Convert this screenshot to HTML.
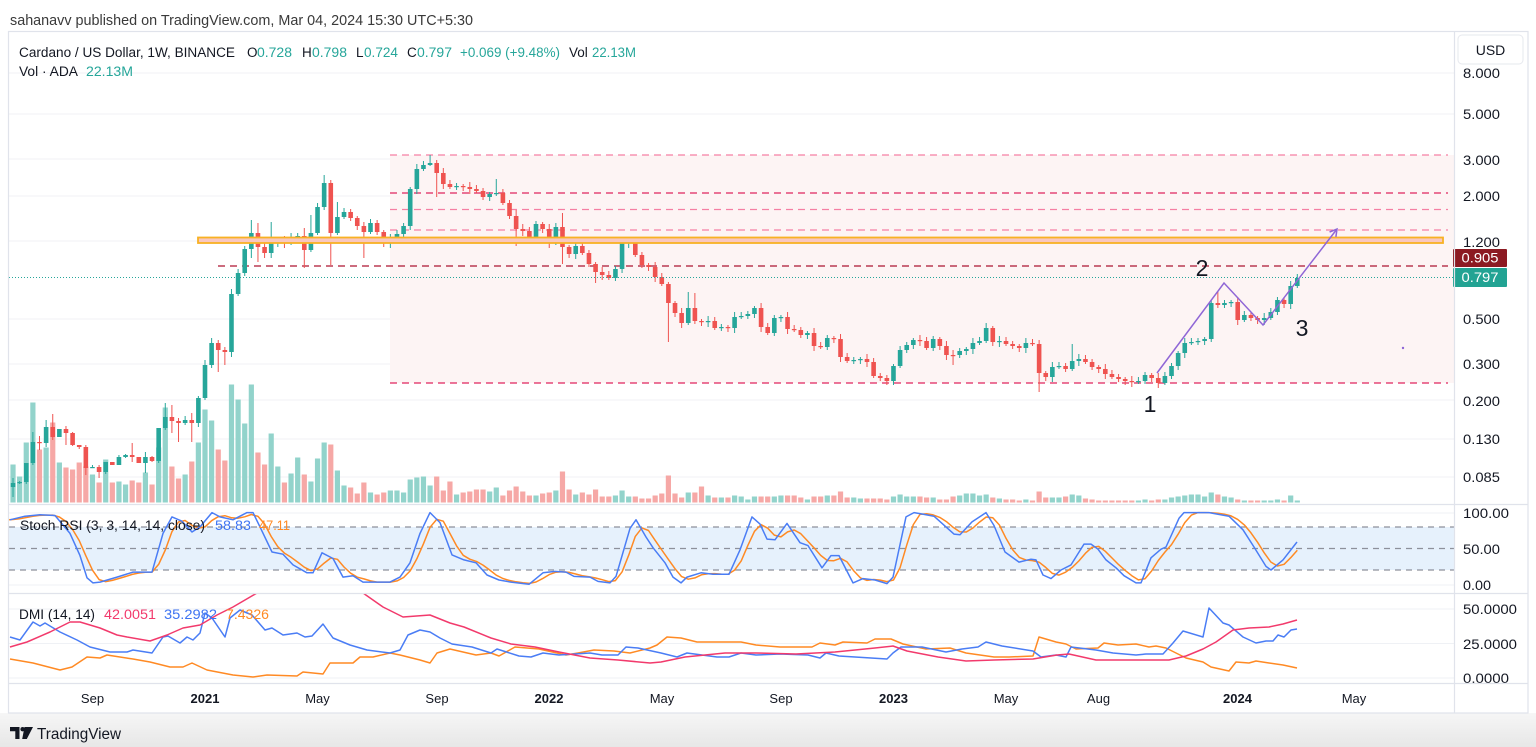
<!DOCTYPE html>
<html><head><meta charset="utf-8">
<style>
html,body{margin:0;padding:0;background:#fff;}
body{width:1536px;height:747px;overflow:hidden;position:relative;font-family:"Liberation Sans",Arial,sans-serif;}
svg{position:absolute;left:0;top:0;}
text{font-family:"Liberation Sans",Arial,sans-serif;}
</style></head><body>
<svg id="c" width="1536" height="747" viewBox="0 0 1536 747" xmlns="http://www.w3.org/2000/svg">
<defs>
 <linearGradient id="ft" x1="0" y1="0" x2="0" y2="1"><stop offset="0" stop-color="#f6f6f6"/><stop offset="1" stop-color="#e7e7e7"/></linearGradient>
 <clipPath id="mainClip"><rect x="9" y="32" width="1445" height="472"/></clipPath>
 <clipPath id="stClip"><rect x="9" y="505" width="1445" height="88"/></clipPath>
 <clipPath id="dmClip"><rect x="9" y="594" width="1445" height="89"/></clipPath>
 <clipPath id="dmAxClip"><rect x="1455" y="594" width="73" height="89"/></clipPath>
</defs>
<rect x="0" y="0" width="1536" height="747" fill="#fff"/>
<rect x="0" y="713" width="1536" height="34" fill="url(#ft)"/>

<!-- header -->
<text x="10" y="25" font-size="15" fill="#3a3a3a" textLength="463" lengthAdjust="spacingAndGlyphs">sahanavv published on TradingView.com, Mar 04, 2024 15:30 UTC+5:30</text>

<!-- main pane gridlines -->
<g stroke="#f0f1f4" stroke-width="1">
 <line x1="9" y1="73" x2="1454" y2="73"/><line x1="9" y1="114" x2="1454" y2="114"/>
 <line x1="9" y1="159" x2="1454" y2="159"/><line x1="9" y1="196" x2="1454" y2="196"/>
 <line x1="9" y1="241" x2="1454" y2="241"/><line x1="9" y1="319" x2="1454" y2="319"/>
 <line x1="9" y1="364" x2="1454" y2="364"/><line x1="9" y1="400" x2="1454" y2="400"/>
 <line x1="9" y1="439" x2="1454" y2="439"/><line x1="9" y1="477" x2="1454" y2="477"/>
</g>
<!-- pink fill region -->
<rect x="390" y="155" width="1064" height="228" fill="#fdf4f4"/>

<g id="vol" clip-path="url(#mainClip)"></g>

<!-- dashed fib lines -->
<g stroke-width="1.3" stroke-dasharray="7 5" fill="none">
 <line x1="390" y1="155" x2="1448" y2="155" stroke="#f57fa3"/>
 <line x1="390" y1="193" x2="1448" y2="193" stroke="#e0245e"/>
 <line x1="390" y1="209.5" x2="1448" y2="209.5" stroke="#f57fa3"/>
 <line x1="390" y1="230" x2="1448" y2="230" stroke="#f57fa3"/>
 <line x1="390" y1="383" x2="1448" y2="383" stroke="#e0245e"/>
 <line x1="218" y1="266" x2="1448" y2="266" stroke="#ad1430"/>
</g>

<g id="cdl" clip-path="url(#mainClip)"></g>

<!-- yellow zone -->
<rect x="198" y="237.5" width="1245" height="5.5" fill="#f9c7bf" stroke="#f8b123" stroke-width="1.8"/>

<!-- current price dotted -->
<line x1="9" y1="277.5" x2="1454" y2="277.5" stroke="#26a69a" stroke-width="1" stroke-dasharray="1 2"/>

<!-- purple drawing -->
<polyline points="1157,373 1224,283 1263,325 1337,229" fill="none" stroke="#8f66d6" stroke-width="1.5"/>
<polyline points="1329.6,232 1337,229 1335.9,236.9" fill="none" stroke="#8f66d6" stroke-width="1.5"/>
<circle cx="1403" cy="348" r="1.2" fill="#8f66d6"/>
<text x="1150" y="412" font-size="23" fill="#131722" text-anchor="middle">1</text>
<text x="1202" y="276" font-size="23" fill="#131722" text-anchor="middle">2</text>
<text x="1302" y="336" font-size="23" fill="#131722" text-anchor="middle">3</text>

<!-- legend -->
<g font-size="13.5" fill="#131722">
 <text x="19" y="57" textLength="216" lengthAdjust="spacingAndGlyphs">Cardano / US Dollar, 1W, BINANCE</text>
 <text x="247" y="57">O</text><text x="257" y="57" fill="#26a69a" textLength="35" lengthAdjust="spacingAndGlyphs">0.728</text>
 <text x="302" y="57">H</text><text x="312" y="57" fill="#26a69a" textLength="35" lengthAdjust="spacingAndGlyphs">0.798</text>
 <text x="356" y="57">L</text><text x="364" y="57" fill="#26a69a" textLength="34" lengthAdjust="spacingAndGlyphs">0.724</text>
 <text x="407" y="57">C</text><text x="417" y="57" fill="#26a69a" textLength="35" lengthAdjust="spacingAndGlyphs">0.797</text>
 <text x="460" y="57" fill="#26a69a" textLength="100" lengthAdjust="spacingAndGlyphs">+0.069 (+9.48%)</text>
 <text x="569" y="57">Vol</text><text x="592" y="57" fill="#26a69a" textLength="44" lengthAdjust="spacingAndGlyphs">22.13M</text>
 <text x="19" y="76" textLength="59" lengthAdjust="spacingAndGlyphs">Vol · ADA</text>
 <text x="86" y="76" fill="#26a69a" textLength="47" lengthAdjust="spacingAndGlyphs">22.13M</text>
</g>

<!-- stoch pane -->
<rect x="9" y="527" width="1445" height="43" fill="#e6f1fc"/>
<g stroke="#eff1f5" stroke-width="1"><line x1="9" y1="513" x2="1454" y2="513"/><line x1="9" y1="585" x2="1454" y2="585"/></g>
<g stroke="#8d919b" stroke-width="1.2" stroke-dasharray="6 5">
 <line x1="9" y1="527" x2="1454" y2="527"/><line x1="9" y1="548.5" x2="1454" y2="548.5"/><line x1="9" y1="570" x2="1454" y2="570"/>
</g>
<g id="st" clip-path="url(#stClip)"></g>
<g font-size="13.5">
 <text x="20" y="530" fill="#131722" textLength="185" lengthAdjust="spacingAndGlyphs">Stoch RSI (3, 3, 14, 14, close)</text>
 <text x="215" y="530" fill="#3f74f2" textLength="36" lengthAdjust="spacingAndGlyphs">58.83</text>
 <text x="259" y="530" fill="#ff8a24" textLength="31" lengthAdjust="spacingAndGlyphs">47.11</text>
</g>

<!-- dmi pane -->
<g stroke="#eff1f5" stroke-width="1"><line x1="9" y1="609" x2="1454" y2="609"/><line x1="9" y1="643.5" x2="1454" y2="643.5"/><line x1="9" y1="678" x2="1454" y2="678"/></g>
<g id="dm" clip-path="url(#dmClip)"></g>
<g font-size="13.5">
 <text x="19" y="619" fill="#131722" textLength="76" lengthAdjust="spacingAndGlyphs">DMI (14, 14)</text>
 <text x="104" y="619" fill="#f23a6c" textLength="52" lengthAdjust="spacingAndGlyphs">42.0051</text>
 <text x="164" y="619" fill="#3f74f2" textLength="53" lengthAdjust="spacingAndGlyphs">35.2982</text>
 <text x="226" y="619" fill="#ff8a24" textLength="43" lengthAdjust="spacingAndGlyphs">7.4326</text>
</g>

<!-- right axis -->
<rect x="1455" y="32" width="73" height="681" fill="#fff"/>
<g font-size="13.5" fill="#131722">
 <text x="1463" y="78" textLength="37" lengthAdjust="spacingAndGlyphs">8.000</text>
 <text x="1463" y="119" textLength="37" lengthAdjust="spacingAndGlyphs">5.000</text>
 <text x="1463" y="165" textLength="37" lengthAdjust="spacingAndGlyphs">3.000</text>
 <text x="1463" y="201" textLength="37" lengthAdjust="spacingAndGlyphs">2.000</text>
 <text x="1463" y="247" textLength="37" lengthAdjust="spacingAndGlyphs">1.200</text>
 <text x="1463" y="324" textLength="37" lengthAdjust="spacingAndGlyphs">0.500</text>
 <text x="1463" y="369" textLength="37" lengthAdjust="spacingAndGlyphs">0.300</text>
 <text x="1463" y="406" textLength="37" lengthAdjust="spacingAndGlyphs">0.200</text>
 <text x="1463" y="444" textLength="37" lengthAdjust="spacingAndGlyphs">0.130</text>
 <text x="1463" y="482" textLength="37" lengthAdjust="spacingAndGlyphs">0.085</text>
 <text x="1463" y="518" textLength="46" lengthAdjust="spacingAndGlyphs">100.00</text>
 <text x="1463" y="554" textLength="37" lengthAdjust="spacingAndGlyphs">50.00</text>
 <text x="1463" y="590" textLength="28" lengthAdjust="spacingAndGlyphs">0.00</text>
 <g clip-path="url(#dmAxClip)">
 <text x="1463" y="614" textLength="54" lengthAdjust="spacingAndGlyphs">50.0000</text>
 <text x="1463" y="649" textLength="54" lengthAdjust="spacingAndGlyphs">25.0000</text>
 <text x="1463" y="683" textLength="46" lengthAdjust="spacingAndGlyphs">0.0000</text>
 </g>
</g>
<rect x="1458" y="35" width="65" height="29" rx="4" fill="#fff" stroke="#e6e8ee"/>
<text x="1490.5" y="55" font-size="14" fill="#131722" text-anchor="middle">USD</text>
<rect x="1453" y="249" width="54" height="18" rx="1" fill="#8c1a22"/>
<text x="1480" y="262.5" font-size="13.5" fill="#fff" text-anchor="middle" textLength="37" lengthAdjust="spacingAndGlyphs">0.905</text>
<rect x="1453" y="268" width="54" height="19" rx="1" fill="#22a393"/>
<text x="1480" y="282" font-size="13.5" fill="#fff" text-anchor="middle" textLength="37" lengthAdjust="spacingAndGlyphs">0.797</text>

<!-- time axis -->
<g font-size="13" fill="#131722" text-anchor="middle">
 <text x="92.5" y="703">Sep</text>
 <text x="205" y="703" font-weight="bold">2021</text>
 <text x="317.5" y="703">May</text>
 <text x="437" y="703">Sep</text>
 <text x="549" y="703" font-weight="bold">2022</text>
 <text x="662" y="703">May</text>
 <text x="781" y="703">Sep</text>
 <text x="893.5" y="703" font-weight="bold">2023</text>
 <text x="1006" y="703">May</text>
 <text x="1098.5" y="703">Aug</text>
 <text x="1237.5" y="703" font-weight="bold">2024</text>
 <text x="1354" y="703">May</text>
</g>

<!-- frame -->
<g stroke="#e0e3eb" stroke-width="1.2" fill="none">
 <rect x="8.5" y="31.5" width="1519.5" height="681.5"/>
 <line x1="1454.5" y1="31.5" x2="1454.5" y2="713"/>
 <line x1="8.5" y1="504.5" x2="1528" y2="504.5"/>
 <line x1="8.5" y1="593.5" x2="1528" y2="593.5"/>
 <line x1="8.5" y1="683.5" x2="1528" y2="683.5"/>
</g>

<!-- footer logo -->
<path d="M10 727 h9.5 v12 h-4.2 v-7.8 h-5.3 z" fill="#131722"/>
<circle cx="22.6" cy="729.2" r="2.2" fill="#131722"/>
<path d="M24.5 727 h8.5 l-6.2 12 h-4.6 z" fill="#131722"/>
<text x="37" y="739" font-size="16" fill="#131722" textLength="84" lengthAdjust="spacingAndGlyphs">TradingView</text>
</svg>
<script>
(function(){
var NS='http://www.w3.org/2000/svg';
function el(tag,attrs,parent){var e=document.createElementNS(NS,tag);for(var a in attrs)e.setAttribute(a,attrs[a]);parent.appendChild(e);return e;}
var X0=205,DX=6.62;
function xk(k){return X0+DX*k;}
var C=[483,482,463,442,443,427,437,429,433,445,447,468,467,472,462,465,457,455,457,463,457,461,428,417,421,423,420,423,398,
365,343,350,352,294,273,249,233,247,253,
243,241,243,237,236,250,233,207,183,233,
217,212,218,226,232,223,232,243,239,234,
226,189,169,165,163,173,184,187,186,187,
189,191,197,194,193,203,216,229,231,238,
224,229,243,227,247,254,246,253,264,272,
275,278,269,243,242,255,265,267,277,284,
303,313,323,308,321,322,321,328,327,328,
317,316,314,308,327,333,318,317,329,330,
335,333,346,347,338,339,357,361,360,359,
362,376,378,381,366,350,345,340,341,348,
339,346,355,355,351,349,343,341,328,342,
341,344,346,348,343,344,373,377,367,366,
369,361,359,362,367,369,374,377,379,381,
382,381,375,378,383,376,366,353,343,342,
341,339,303,305,303,302,320,315,318,320,
318,312,300,304,286,278];
var V=[38,26,60,100,53,55,80,40,35,33,
40,36,28,20,43,20,21,18,22,20,
30,18,55,95,36,24,28,41,60,
93,82,53,42,118,103,79,118,50,38,
69,36,20,29,45,28,21,44,60,58,
32,17,15,9,20,10,8,10,12,12,
10,23,25,26,17,26,12,21,8,10,
11,13,13,11,15,7,12,16,11,7,
7,9,10,12,31,13,8,10,8,13,
6,6,7,12,6,6,4,4,7,9,
27,9,5,10,10,16,7,5,5,5,
7,6,3,6,6,6,6,7,7,7,
5,3,6,6,7,7,11,5,5,4,
4,4,4,3,6,8,6,6,6,5,
5,3,3,6,7,9,9,7,8,5,
4,3,3,2,3,2,11,5,5,5,
6,8,7,4,3,2,2,2,2,2,
2,2,3,2,3,3,5,6,7,8,
8,6,10,8,6,5,3,2,2,2,
2,2,3,2,7,2];
var W={'-29':[478,497],'-26':[432,465],'-25':[436,450],'-23':[414,440],'-21':[426,445],'-18':[445,475],'-16':[465,478],
'-11':[443,462],'-9':[452,473],'-6':[403,430],'-5':[405,433],'-4':[418,442],'-2':[413,442],'-24':[420,447],
'0':[360,400],'1':[338,368],'2':[340,372],'3':[347,365],'4':[289,357],'7':[220,258],'8':[223,262],'9':[240,258],'10':[222,258],
'15':[228,268],'16':[215,252],'18':[175,210],'19':[180,265],'20':[202,235],'24':[222,258],'34':[155,166],'35':[160,197],
'44':[179,196],'47':[210,246],'54':[213,264],'59':[262,283],'70':[282,342],'73':[292,325],'74':[293,324],
'103':[375,385],'104':[364,385],'113':[350,365],'118':[323,343],'126':[340,392],'131':[344,371],'152':[300,342],'153':[292,308]};
var UP='#26a69a',DN='#ef5350',UPV='#92d3cb',DNV='#f6a8a6';
var vol=document.getElementById('vol'),cdl=document.getElementById('cdl');
var prev=487;
for(var i=0;i<C.length;i++){
  var k=i-29,x=xk(k),o=prev,c=C[i];prev=c;
  var up=c<o||(c===o&&k!==113);
  var col=up?UP:DN;
  var top=Math.min(o,c),bot=Math.max(o,c);
  var hi=top-(2+((k*7+39)%4)),lo=bot+(2+((k*5+31)%4));
  if(W[String(k)]){hi=Math.min(W[String(k)][0],top);lo=Math.max(W[String(k)][1],bot);}
  var h=V[i]||2;
  el('rect',{x:(x-2.6).toFixed(2),y:(502.5-h).toFixed(2),width:5.2,height:h,fill:up?UPV:DNV},vol);
  el('line',{x1:x.toFixed(2),y1:hi,x2:x.toFixed(2),y2:lo,stroke:col,'stroke-width':1},cdl);
  el('rect',{x:(x-2.3).toFixed(2),y:top,width:4.6,height:Math.max(1.2,bot-top),fill:col},cdl);
}
var KP=[[10,90],[25,95],[40,97],[55,96],[70,71],[80,40],[87,9],[93,2],[100,3],[117,10],[133,17],[152,17],[163,71],[172,94],[182,88],[192,73],[200,80],[212,100],[220,94],[233,90],[247,100],[253,100],[260,80],[272,45],[283,42],[293,27],[307,16],[313,16],[322,44],[333,36],[343,10],[353,12],[363,3],[390,3],[400,10],[410,30],[420,71],[430,100],[440,86],[452,41],[464,34],[476,30],[487,13],[499,6],[511,3],[529,0],[543,16],[555,18],[566,17],[574,11],[590,10],[598,4],[610,2],[616,11],[630,78],[636,90],[646,66],[653,51],[665,30],[673,10],[681,2],[687,10],[701,16],[713,14],[729,14],[740,48],[752,94],[760,84],[767,63],[775,62],[787,85],[800,58],[808,54],[822,23],[831,40],[839,40],[853,2],[863,8],[875,6],[887,1],[893,10],[906,94],[914,100],[922,98],[934,95],[946,80],[954,70],[960,69],[972,87],[986,100],[994,82],[1005,45],[1019,31],[1031,35],[1036,34],[1043,13],[1051,8],[1061,20],[1071,27],[1084,56],[1091,56],[1098,49],[1106,34],[1116,23],[1124,12],[1136,2],[1141,2],[1151,37],[1161,49],[1166,52],[1179,92],[1184,100],[1209,100],[1229,95],[1243,76],[1254,52],[1266,25],[1271,20],[1283,34],[1297,59]];
function interp(P,x){if(x<=P[0][0])return P[0][1];for(var j=1;j<P.length;j++){if(x<=P[j][0]){var a=P[j-1],b=P[j];return a[1]+(b[1]-a[1])*(x-a[0])/(b[0]-a[0]);}}return P[P.length-1][1];}
function sy(v){return 584.3-0.717*v;}
var ks=[],xs=[];
for(var kk=-30;kk<=165;kk++){var xx=xk(kk);if(xx<8)xx=8;xs.push(xx);ks.push(interp(KP,xx));}
var ds=[];for(var j=0;j<ks.length;j++){var a=ks[Math.max(0,j-2)],b=ks[Math.max(0,j-1)],cc=ks[j];ds.push((a+b+cc)/3);}
var st=document.getElementById('st');
var pd='';
for(var j=0;j<xs.length;j++){pd+=(j?' ':'')+xs[j].toFixed(1)+','+sy(ds[j]).toFixed(1);}
var kpts=KP.map(function(p){return p[0]+','+sy(p[1]).toFixed(1);}).join(' ');
el('polyline',{points:pd,fill:'none',stroke:'#ff8a24','stroke-width':1.5,'stroke-linejoin':'round'},st);
el('polyline',{points:kpts,fill:'none',stroke:'#4a7df5','stroke-width':1.5,'stroke-linejoin':'round'},st);
var PINK=[[10,647],[27,642],[50,632],[70,622],[80,622],[100,628],[117,635],[127,637],[150,641],[167,635],[183,628],[200,625],[217,615],[233,607],[257,593],[285,578],[320,572],[345,580],[363,593],[383,607],[403,617],[430,615],[450,623],[464,627],[491,638],[511,644],[535,647],[559,652],[590,658],[618,660],[650,663],[661,662],[685,657],[725,653],[756,653],[796,654],[835,652],[875,648],[893,646],[907,651],[938,657],[966,661],[994,660],[1033,659],[1057,655],[1069,654],[1096,660],[1169,660],[1186,656],[1203,649],[1216,642],[1233,630],[1249,628],[1269,627],[1283,624],[1297,620]];
var BLUE=[[10,637],[20,640],[33,622],[40,626],[45,623],[60,632],[77,640],[90,647],[110,652],[127,652],[133,650],[152,653],[163,637],[168,636],[180,643],[187,637],[193,640],[200,633],[205,613],[212,618],[225,637],[230,618],[240,610],[252,615],[265,630],[272,628],[283,635],[297,633],[305,637],[312,636],[323,624],[333,638],[350,645],[367,650],[390,653],[400,650],[408,635],[420,630],[430,632],[440,638],[452,644],[472,647],[491,653],[497,649],[519,656],[531,657],[543,653],[559,655],[590,653],[602,655],[618,655],[626,647],[638,648],[661,653],[677,657],[687,653],[717,657],[729,657],[741,653],[756,655],[780,654],[808,655],[820,658],[826,653],[839,656],[855,657],[887,659],[893,653],[901,647],[922,647],[946,652],[962,649],[978,647],[986,642],[1002,646],[1033,651],[1041,657],[1056,655],[1066,657],[1071,647],[1096,650],[1113,653],[1136,655],[1146,654],[1163,654],[1173,643],[1183,631],[1203,637],[1209,608],[1223,623],[1229,625],[1243,637],[1256,643],[1266,641],[1273,641],[1278,635],[1284,637],[1291,630],[1297,629]];
var ORNG=[[10,659],[33,663],[60,670],[72,667],[87,657],[100,658],[107,655],[133,659],[150,662],[170,667],[183,667],[192,663],[207,670],[233,675],[253,677],[267,675],[297,676],[303,672],[323,674],[330,663],[347,663],[353,663],[360,657],[373,657],[390,653],[400,655],[420,660],[430,663],[437,653],[450,649],[476,655],[491,653],[499,656],[515,647],[539,649],[566,655],[578,653],[594,650],[614,651],[630,653],[650,648],[657,645],[667,637],[681,638],[697,642],[741,642],[756,645],[780,647],[812,647],[820,643],[835,645],[843,642],[867,643],[875,639],[891,639],[903,644],[926,649],[950,648],[966,653],[994,657],[1009,657],[1033,656],[1039,637],[1056,642],[1066,644],[1076,649],[1098,648],[1104,643],[1118,645],[1136,644],[1149,647],[1156,646],[1166,648],[1176,653],[1186,658],[1203,662],[1211,667],[1229,671],[1236,662],[1249,663],[1256,661],[1269,663],[1283,665],[1297,668]];
var dm=document.getElementById('dm');
function pl(P,col){el('polyline',{points:P.map(function(p){return p[0]+','+p[1];}).join(' '),fill:'none',stroke:col,'stroke-width':1.5,'stroke-linejoin':'round'},dm);}
pl(ORNG,'#ff8a24');pl(BLUE,'#4a7df5');pl(PINK,'#f23a6c');
})();
</script>
</body></html>
